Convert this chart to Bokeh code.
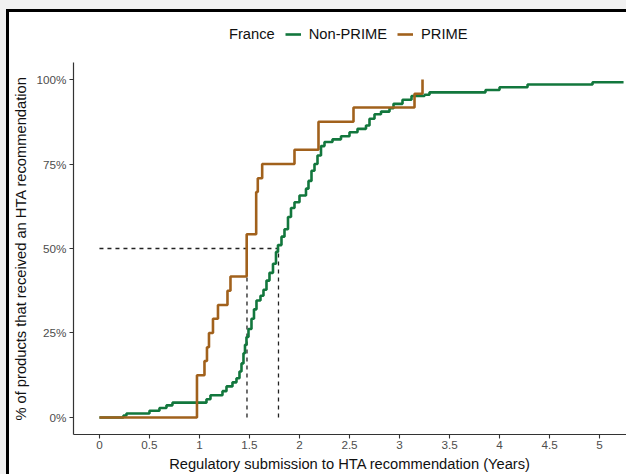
from bokeh.plotting import figure
from bokeh.layouts import column
from bokeh.models import (Range1d, FixedTicker, Legend, LegendItem)
from bokeh.embed import file_html
from bokeh.resources import INLINE

# ---------------- data ----------------
prime_years = [0.0, 0.975, 1.05, 1.075, 1.095, 1.135, 1.185, 1.28, 1.31,
               1.472, 1.567, 1.583, 1.627, 1.95, 2.19, 2.54, 3.15, 3.23]
prime_share = [0.0, 0.125, 0.167, 0.208, 0.25, 0.292, 0.333, 0.375, 0.417,
               0.542, 0.667, 0.708, 0.75, 0.792, 0.875, 0.917, 0.958, 1.0]

nonprime_years = [0.0, 0.24, 0.27, 0.50, 0.60, 0.67, 0.73, 1.07, 1.11, 1.23,
                  1.27, 1.33, 1.37, 1.40, 1.42, 1.44, 1.455, 1.47, 1.49, 1.52,
                  1.545, 1.57, 1.61, 1.64, 1.67, 1.70, 1.735, 1.765, 1.785,
                  1.82, 1.85, 1.885, 1.915, 1.95, 2.00, 2.065, 2.09, 2.12,
                  2.15, 2.18, 2.215, 2.25, 2.33, 2.415, 2.50, 2.58, 2.665,
                  2.70, 2.75, 2.815, 2.90, 2.94, 3.03, 3.12, 3.25, 3.30, 3.86,
                  4.00, 4.28, 4.93, 5.24]
nonprime_share = [0.0, 0.006, 0.012, 0.020, 0.028, 0.036, 0.044, 0.054, 0.066,
                  0.078, 0.092, 0.104, 0.116, 0.136, 0.160, 0.190, 0.215,
                  0.238, 0.262, 0.292, 0.320, 0.346, 0.360, 0.378, 0.405,
                  0.428, 0.455, 0.490, 0.510, 0.535, 0.557, 0.593, 0.620,
                  0.637, 0.657, 0.677, 0.700, 0.730, 0.750, 0.775, 0.803,
                  0.815, 0.823, 0.832, 0.844, 0.854, 0.864, 0.884, 0.897,
                  0.905, 0.915, 0.928, 0.940, 0.951, 0.955, 0.962, 0.969,
                  0.977, 0.985, 0.992, 0.992]

median_years = [1.475, 1.79]   # PRIME, Non-PRIME
median_level = 0.5

x_ticks = [0, 0.5, 1, 1.5, 2, 2.5, 3, 3.5, 4, 4.5, 5]
x_tick_labels = ["0", "0.5", "1", "1.5", "2", "2.5", "3", "3.5", "4", "4.5", "5"]
y_ticks = [0, 0.25, 0.5, 0.75, 1.0]
y_tick_labels = ["0%", "25%", "50%", "75%", "100%"]

legend_title = "France"
series_names = ["Non-PRIME", "PRIME"]
colors = ["#12773d", "#a1611c"]

FONT = "Liberation Sans"
LINE_W = 2.6

# ---------------- legend strip (top) ----------------
# its frame is aligned with the main plot's frame by the column layout;
# the ranges keep the (real) series data out of view so only the legend shows
lf = figure(width=617, height=50, output_backend="svg", toolbar_location=None,
            x_axis_type=None, y_axis_type=None,
            x_range=Range1d(100, 101), y_range=Range1d(100, 101),
            min_border_left=63, min_border_right=0, min_border_top=0,
            min_border_bottom=0)
lf.outline_line_color = None
lf.background_fill_color = "white"
lf.border_fill_color = "white"
lf.xgrid.visible = False
lf.ygrid.visible = False
lt = lf.line(prime_years, prime_share, line_alpha=0)
lg = lf.line(nonprime_years, nonprime_share, line_color=colors[0],
             line_width=LINE_W)
lb = lf.line(prime_years, prime_share, line_color=colors[1], line_width=LINE_W)
legend = Legend(items=[LegendItem(label=legend_title, renderers=[lt]),
                       LegendItem(label=series_names[0], renderers=[lg]),
                       LegendItem(label=series_names[1], renderers=[lb])],
                orientation="horizontal", location=(132, 20))
legend.label_text_font = FONT
legend.label_text_font_size = "14.7px"
legend.label_text_color = "#111111"
legend.glyph_width = 16
legend.glyph_height = 16
legend.label_standoff = 8
legend.label_height = 16
legend.spacing = 10
legend.padding = 0
legend.margin = 0
legend.border_line_color = None
legend.background_fill_alpha = 0
lf.add_layout(legend, "center")

# ---------------- main plot ----------------
p = figure(width=617, height=412, output_backend="svg", toolbar_location=None,
           x_range=Range1d(-0.2595, 5.2695), y_range=Range1d(-0.0503, 1.0503),
           min_border_left=63, min_border_right=0, min_border_top=0,
           min_border_bottom=40)
p.background_fill_color = "white"
p.border_fill_color = "white"
p.outline_line_color = None
p.xgrid.visible = False
p.ygrid.visible = False

# median guides
p.line([0, median_years[1]], [median_level, median_level], line_color="#222222",
       line_width=1.3, line_dash="4 4")
for m in median_years:
    p.line([m, m], [0, median_level], line_color="#222222", line_width=1.3,
           line_dash="4 4")

p.step(nonprime_years, nonprime_share, mode="after", line_color=colors[0],
       line_width=LINE_W)
p.step(prime_years, prime_share, mode="after", line_color=colors[1],
       line_width=LINE_W)

for ax in (p.xaxis[0], p.yaxis[0]):
    ax.axis_line_color = "#333333"
    ax.axis_line_width = 1.2
    ax.major_tick_line_color = "#333333"
    ax.major_tick_line_width = 1.1
    ax.major_tick_in = 0
    ax.major_tick_out = 4
    ax.minor_tick_line_color = None
    ax.major_label_text_font = FONT
    ax.major_label_text_font_size = "11.7px"
    ax.major_label_text_color = "#4d4d4d"
    ax.axis_label_text_font = FONT
    ax.axis_label_text_font_size = "14.7px"
    ax.axis_label_text_font_style = "normal"
    ax.axis_label_text_color = "#111111"

p.xaxis.ticker = FixedTicker(ticks=x_ticks)
p.xaxis.major_label_overrides = dict(zip(x_ticks, x_tick_labels))
p.yaxis.ticker = FixedTicker(ticks=y_ticks)
p.yaxis.major_label_overrides = dict(zip(y_ticks, y_tick_labels))
p.xaxis.axis_label = "Regulatory submission to HTA recommendation (Years)"
p.yaxis.axis_label = "% of products that received an HTA recommendation"
p.xaxis.major_label_standoff = 2
p.xaxis.axis_label_standoff = 4
p.yaxis.major_label_standoff = 3
p.yaxis.axis_label_standoff = 5

layout = column(lf, p, spacing=0)
layout.styles = {"margin-left": "6px", "margin-top": "9px",
                 "border-top": "3px solid black", "border-left": "3px solid black",
                 "background": "white"}

html = file_html(layout, INLINE)
html = html.replace("</head>",
                    "<style>html, body {background: #f1f1f1 !important;}</style></head>", 1)
open("out.html", "w").write(html)
